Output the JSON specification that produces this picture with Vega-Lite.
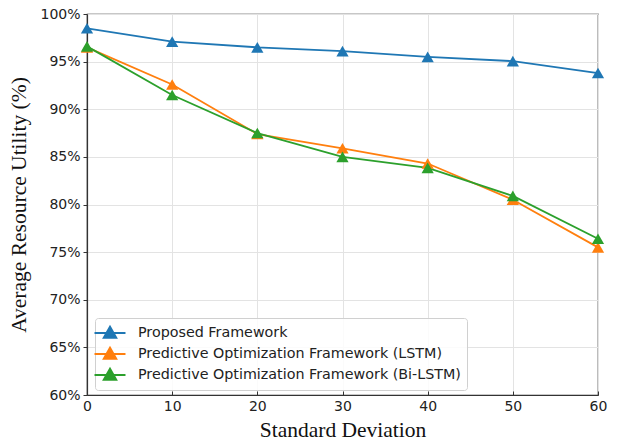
{
  "$schema": "https://vega.github.io/schema/vega-lite/v6.json",
  "width": 511,
  "height": 381,
  "autosize": {"type": "none"},
  "padding": {"left": 87, "top": 14, "right": 26, "bottom": 50},
  "background": "white",
  "config": {
    "view": {"stroke": "#222", "strokeWidth": 1.2},
    "axis": {
      "labelFont": "DejaVu Sans",
      "labelFontSize": 14,
      "labelColor": "#222",
      "labelFlush": false,
      "labelOverlap": false,
      "titleFont": "Liberation Serif",
      "titleFontSize": 21.5,
      "titleFontWeight": "normal",
      "titleColor": "#111",
      "gridColor": "#e3e3e3",
      "gridWidth": 1,
      "domainColor": "#333",
      "domainWidth": 1.2,
      "tickColor": "#333"
    }
  },
  "data": {
    "values": [
      {"sd": 0, "v": 98.5, "s": "Proposed Framework"},
      {"sd": 10, "v": 97.1, "s": "Proposed Framework"},
      {"sd": 20, "v": 96.5, "s": "Proposed Framework"},
      {"sd": 30, "v": 96.1, "s": "Proposed Framework"},
      {"sd": 40, "v": 95.5, "s": "Proposed Framework"},
      {"sd": 50, "v": 95.05, "s": "Proposed Framework"},
      {"sd": 60, "v": 93.8, "s": "Proposed Framework"},
      {"sd": 0, "v": 96.5, "s": "Predictive Optimization Framework (LSTM)"},
      {"sd": 10, "v": 92.6, "s": "Predictive Optimization Framework (LSTM)"},
      {"sd": 20, "v": 87.4, "s": "Predictive Optimization Framework (LSTM)"},
      {"sd": 30, "v": 85.9, "s": "Predictive Optimization Framework (LSTM)"},
      {"sd": 40, "v": 84.3, "s": "Predictive Optimization Framework (LSTM)"},
      {"sd": 50, "v": 80.5, "s": "Predictive Optimization Framework (LSTM)"},
      {"sd": 60, "v": 75.5, "s": "Predictive Optimization Framework (LSTM)"},
      {"sd": 0, "v": 96.6, "s": "Predictive Optimization Framework (Bi-LSTM)"},
      {"sd": 10, "v": 91.5, "s": "Predictive Optimization Framework (Bi-LSTM)"},
      {"sd": 20, "v": 87.5, "s": "Predictive Optimization Framework (Bi-LSTM)"},
      {"sd": 30, "v": 85.0, "s": "Predictive Optimization Framework (Bi-LSTM)"},
      {"sd": 40, "v": 83.85, "s": "Predictive Optimization Framework (Bi-LSTM)"},
      {"sd": 50, "v": 80.9, "s": "Predictive Optimization Framework (Bi-LSTM)"},
      {"sd": 60, "v": 76.4, "s": "Predictive Optimization Framework (Bi-LSTM)"}
    ]
  },
  "encoding": {
    "x": {
      "field": "sd", "type": "quantitative",
      "scale": {"domain": [0, 60], "nice": false, "zero": false},
      "axis": {"title": "Standard Deviation", "values": [0, 10, 20, 30, 40, 50, 60], "tickSize": -4, "labelPadding": 8, "titlePadding": 6}
    },
    "y": {
      "field": "v", "type": "quantitative",
      "scale": {"domain": [60, 100], "nice": false, "zero": false},
      "axis": {"title": "Average Resource Utility (%)", "values": [60, 65, 70, 75, 80, 85, 90, 95, 100], "labelExpr": "datum.value + '%'", "tickSize": 4, "labelPadding": 3, "titlePadding": 9}
    },
    "color": {
      "field": "s", "type": "nominal",
      "sort": ["Proposed Framework", "Predictive Optimization Framework (LSTM)", "Predictive Optimization Framework (Bi-LSTM)"],
      "scale": {
        "domain": ["Proposed Framework", "Predictive Optimization Framework (LSTM)", "Predictive Optimization Framework (Bi-LSTM)"],
        "range": ["#1f77b4", "#ff7f0e", "#2ca02c"]
      },
      "legend": {
        "title": null,
        "orient": "none",
        "legendX": 8,
        "legendY": 304,
        "direction": "vertical",
        "labelFont": "DejaVu Sans",
        "labelFontSize": 14.3,
        "labelColor": "#222",
        "labelLimit": 0,
        "symbolType": "M-2,0L2,0M0,-0.8L0.8,0.6L-0.8,0.6Z",
        "symbolSize": 240,
        "symbolStrokeWidth": 2,
        "symbolOpacity": 1,
        "rowPadding": 1,
        "labelOffset": 19,
        "fillColor": "rgba(255,255,255,0.85)",
        "strokeColor": "#d0d0d0",
        "cornerRadius": 3,
        "padding": 6
      }
    }
  },
  "layer": [
    {"mark": {"type": "line", "strokeWidth": 1.8}},
    {"mark": {"type": "point", "shape": "triangle-up", "filled": true, "size": 150, "opacity": 1}}
  ]
}
